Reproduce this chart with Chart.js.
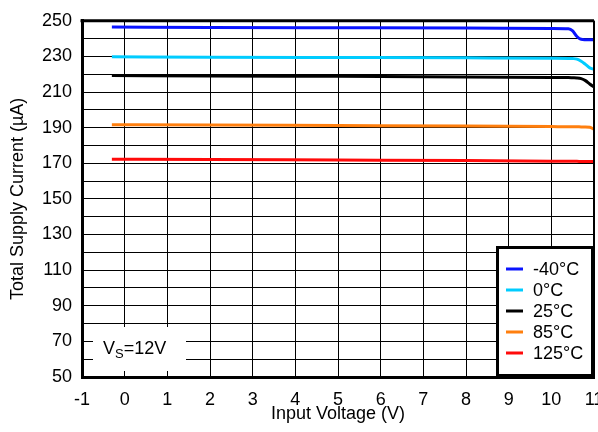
<!DOCTYPE html>
<html>
<head>
<meta charset="utf-8">
<script src="https://cdn.jsdelivr.net/npm/chart.js@4/dist/chart.umd.min.js"></script>
<style>
  html, body { margin: 0; padding: 0; background: #fff; overflow: hidden; }
  #wrap { width: 620px; height: 432px; }
</style>
</head>
<body>
<div id="wrap"><canvas id="c" width="620" height="432"></canvas></div>
<script>
// Supply current vs. input voltage at five temperatures (VS = 12 V)
const inputVoltage = [-0.3, 2, 5, 8, 10, 10.4, 10.5, 10.6, 10.7, 10.8, 10.9, 11];
const currMinus40 = [246.5, 246.3, 246.1, 245.9, 245.7, 245.5, 244.3, 241.2, 239.6, 239.4, 239.3, 239.3];
const curr0       = [229.8, 229.6, 229.4, 229.2, 229.0, 228.9, 228.8, 228.5, 227.3, 225.5, 223.6, 222.8];
const curr25      = [219.3, 219.0, 218.8, 218.5, 218.2, 218.1, 218.0, 217.9, 217.5, 216.4, 214.5, 212.8];
const curr85      = [191.7, 191.5, 191.2, 190.9, 190.6, 190.5, 190.5, 190.5, 190.4, 190.4, 190.2, 189.1];
const curr125     = [172.3, 172.1, 171.8, 171.5, 171.2, 171.1, 171.1, 171.1, 171.0, 171.0, 171.0, 171.0];
const seriesLabels = ['-40°C', '0°C', '25°C', '85°C', '125°C'];
const seriesColors = ['#0a14ff', '#00ccff', '#000000', '#ff7f0e', '#ff0a0a'];
const xTicks = [-1, 0, 1, 2, 3, 4, 5, 6, 7, 8, 9, 10, 11];
const yLabelled = [50, 70, 90, 110, 130, 150, 170, 190, 210, 230, 250];

const FONT = "'Liberation Sans', Arial, Helvetica, sans-serif";

function pts(ys) { return inputVoltage.map((x, i) => ({ x: x, y: ys[i] })); }

const allSeries = [currMinus40, curr0, curr25, curr85, curr125];
const datasets = allSeries.map((ys, i) => ({
  label: seriesLabels[i],
  data: pts(ys),
  borderColor: seriesColors[i],
  backgroundColor: seriesColors[i],
  borderWidth: 3,
  pointRadius: 0,
  cubicInterpolationMode: 'monotone',
  fill: false
}));

// Frame on top and right of the plot
const framePlugin = {
  id: 'frame',
  afterDraw(chart) {
    const a = chart.chartArea, ctx = chart.ctx;
    ctx.save();
    ctx.strokeStyle = '#000';
    ctx.lineWidth = 3;
    ctx.beginPath();
    ctx.moveTo(a.left - 1.5, a.top);
    ctx.lineTo(a.right, a.top);
    ctx.stroke();
    ctx.lineWidth = 2;
    ctx.beginPath();
    ctx.moveTo(a.right, a.top);
    ctx.lineTo(a.right, a.bottom);
    ctx.stroke();
    ctx.restore();
  }
};

// In-plot annotation box and boxed legend
const boxesPlugin = {
  id: 'boxes',
  afterDatasetsDraw(chart) {
    const a = chart.chartArea, ctx = chart.ctx;
    ctx.save();
    // VS label
    const bx = a.left + 11, by = a.bottom - 50;
    ctx.fillStyle = '#fff';
    ctx.fillRect(bx, by, 93, 44);
    ctx.fillStyle = '#000';
    ctx.textBaseline = 'alphabetic';
    ctx.textAlign = 'left';
    ctx.font = '18px ' + FONT;
    let tx = bx + 10, base = by + 27;
    ctx.fillText('V', tx, base);
    tx += ctx.measureText('V').width;
    ctx.font = '13px ' + FONT;
    ctx.fillText('S', tx, base + 4);
    tx += ctx.measureText('S').width;
    ctx.font = '18px ' + FONT;
    ctx.fillText('=12V', tx, base);

    // Legend
    const lw = 98, lh = 131;
    const lx = a.right - lw, ly = a.bottom - lh;
    ctx.fillStyle = '#fff';
    ctx.fillRect(lx, ly, lw, lh);
    ctx.strokeStyle = '#000';
    ctx.lineWidth = 3;
    ctx.strokeRect(lx + 1.5, ly + 1.5, lw - 3, lh - 3);
    ctx.font = '18px ' + FONT;
    ctx.textBaseline = 'middle';
    chart.data.datasets.forEach((ds, i) => {
      const yy = ly + 23 + i * 21;
      ctx.strokeStyle = ds.borderColor;
      ctx.lineWidth = 3;
      ctx.beginPath();
      ctx.moveTo(lx + 10, yy);
      ctx.lineTo(lx + 27, yy);
      ctx.stroke();
      ctx.fillStyle = '#000';
      ctx.fillText(ds.label, lx + 37, yy + 1);
    });
    ctx.restore();
  }
};

new Chart(document.getElementById('c'), {
  type: 'line',
  data: { datasets: datasets },
  options: {
    responsive: false,
    animation: false,
    events: [],
    layout: { padding: { left: 0, top: 17, right: 26, bottom: 0 } },
    plugins: { legend: { display: false }, tooltip: { enabled: false } },
    scales: {
      x: {
        type: 'linear',
        min: -1, max: 11,
        afterBuildTicks(scale) { scale.ticks = xTicks.map(v => ({ value: v })); },
        afterFit(scale) { scale.height = 55; },
        grid: { color: '#000', lineWidth: 1, drawTicks: false },
        border: { color: '#000', width: 3 },
        ticks: {
          color: '#000', padding: 12,
          font: { family: FONT, size: 18 },
          maxRotation: 0, autoSkip: false,
          callback: v => String(v)
        },
        title: {
          display: true, text: 'Input Voltage (V)', color: '#000',
          font: { family: FONT, size: 18 },
          padding: { top: 0, bottom: 7 }
        }
      },
      y: {
        type: 'linear',
        min: 50, max: 250,
        afterBuildTicks(scale) {
          const t = [];
          for (let v = 50; v <= 250; v += 10) t.push({ value: v });
          scale.ticks = t;
        },
        afterFit(scale) { scale.width = 82; },
        grid: { color: '#000', lineWidth: 1, drawTicks: false },
        border: { color: '#000', width: 3 },
        ticks: {
          color: '#000', padding: 10,
          font: { family: FONT, size: 18 },
          autoSkip: false,
          callback: v => (yLabelled.includes(v) ? String(v) : '')
        },
        title: {
          display: true, text: 'Total Supply Current (µA)', color: '#000',
          font: { family: FONT, size: 18 },
          padding: { top: 7, bottom: 0 }
        }
      }
    }
  },
  plugins: [framePlugin, boxesPlugin]
});
</script>
</body>
</html>
